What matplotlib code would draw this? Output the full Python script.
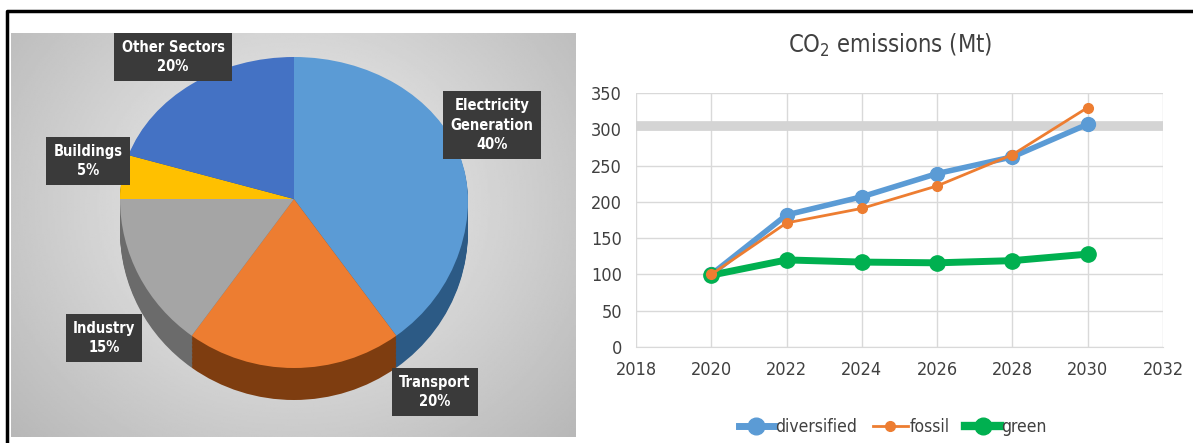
import numpy as np
import matplotlib
matplotlib.use("Agg")
import matplotlib.pyplot as plt
from matplotlib.lines import Line2D

plt.rcParams['font.family'] = ['Liberation Sans Narrow', 'DejaVu Sans']
plt.rcParams['font.stretch'] = 'condensed'

# ==============================
# DATA
# ==============================
sectors = ["Electricity\nGeneration", "Transport", "Industry", "Buildings", "Other Sectors"]
shares = [40, 20, 15, 5, 20]
top_colors = ["#5B9BD5", "#ED7D31", "#A5A5A5", "#FFC000", "#4472C4"]
side_colors = ["#2C5A85", "#7E3D10", "#6B6B6B", "#A07800", "#2A4A80"]

years = [2020, 2022, 2024, 2026, 2028, 2030]
diversified = [100, 182, 207, 239, 262, 307]
fossil = [100, 171, 191, 222, 265, 330]
green = [99, 120, 117, 116, 119, 128]

W, H = 1193, 443
fig = plt.figure(figsize=(W / 100, H / 100), dpi=100)

# ==============================
# LEFT: 3D-looking pie on gradient panel
# ==============================
px0, px1, py0, py1 = 11, 576, 33, 437
rect = [px0 / W, 1 - py1 / H, (px1 - px0) / W, (py1 - py0) / H]

# gradient background panel
axb = fig.add_axes(rect)
gx, gy = np.meshgrid(np.linspace(-1, 1, 300), np.linspace(-1, 1, 300))
r = np.sqrt((gx * 1.0) ** 2 + ((gy + 0.15) * 0.8) ** 2)
grad = 0.95 - 0.17 * np.clip(r, 0, 1.4)
axb.imshow(grad, extent=[0, 1, 0, 1], cmap='gray', vmin=0, vmax=1, aspect='auto')
axb.axis('off')

# pie: upper half flatter than lower half (perspective)
cx, cy, rx, ry_up, ry_dn = 294, 199, 174, 142, 169
k = ry_dn / ry_up
fwd = lambda y: np.where(y < 0, y * k, y)
inv = lambda y: np.where(y < 0, y / k, y)

axp = fig.add_axes(rect)
axp.patch.set_visible(False)
depth = 32 / ry_dn
for off in np.linspace(-depth, 0, 25)[:-1]:
    axp.pie(shares, colors=side_colors, startangle=90, counterclock=False,
            center=(0, off), radius=1, frame=True,
            wedgeprops=dict(linewidth=0))
axp.pie(shares, colors=top_colors, startangle=90, counterclock=False,
        center=(0, 0), radius=1, frame=True,
        wedgeprops=dict(linewidth=0))
axp.set_aspect('auto')
axp.set_yscale('function', functions=(fwd, inv))
axp.set_xlim((px0 - cx) / rx, (px1 - cx) / rx)
axp.set_ylim((cy - py1) / ry_up / k, (cy - py0) / ry_up)
axp.set_xticks([])
axp.set_yticks([])
axp.minorticks_off()
for s in axp.spines.values():
    s.set_visible(False)

# data labels (pixel positions of the boxes)
label_pos = [(492, 125), (435, 392), (104, 338), (88, 161), (173, 57)]
for name, val, (lx, ly) in zip(sectors, shares, label_pos):
    fig.text(lx / W, 1 - ly / H, f"{name}\n{val}%", ha='center', va='center',
             color='white', fontsize=10.5, fontweight='bold', linespacing=1.35,
             bbox=dict(boxstyle='square,pad=0.5', facecolor='#3A3A3A', edgecolor='none'))

# ==============================
# RIGHT: CO2 emissions line chart
# ==============================
ax = fig.add_axes([636 / W, 1 - 347 / H, (1163 - 636) / W, (347 - 93) / H])
ax.axhline(305, color='#D4D4D4', lw=7, zorder=1)
ax.plot(years, diversified, color='#5B9BD5', lw=4, marker='o', ms=10, zorder=3, label='diversified')
ax.plot(years, fossil, color='#ED7D31', lw=2, marker='o', ms=7, zorder=4, label='fossil')
ax.plot(years, green, color='#00B050', lw=5, marker='o', ms=11, zorder=3, label='green')

ax.set_xlim(2018, 2032)
ax.set_ylim(0, 350)
ax.set_xticks(range(2018, 2033, 2))
ax.set_yticks(range(0, 351, 50))
ax.grid(True, color='#D9D9D9', lw=1)
ax.set_axisbelow(True)
for s in ['top', 'right', 'left']:
    ax.spines[s].set_visible(False)
ax.spines['bottom'].set_color('#D9D9D9')
ax.tick_params(length=0, labelsize=13, colors='#404040', pad=10)

fig.text(890 / W, 1 - 45 / H, "CO$_2$ emissions (Mt)", ha='center', va='center',
         fontsize=17, color='#404040')

handles = [Line2D([], [], color='#5B9BD5', lw=5, marker='o', ms=12),
           Line2D([], [], color='#ED7D31', lw=2, marker='o', ms=7),
           Line2D([], [], color='#00B050', lw=6, marker='o', ms=12)]
fig.legend(handles, ['diversified', 'fossil', 'green'], loc='center',
           bbox_to_anchor=(893 / W, 1 - 427 / H), ncol=3, frameon=False,
           fontsize=12.5, labelcolor='#404040', handlelength=2.0,
           handletextpad=0.1, columnspacing=0.9)

# outer frame
fig.add_artist(Line2D([7 / W, 7 / W, 1.0], [0, 1 - 11 / H, 1 - 11 / H],
                      transform=fig.transFigure, color='black', lw=2.5))

fig.savefig("out.png", dpi=100)
